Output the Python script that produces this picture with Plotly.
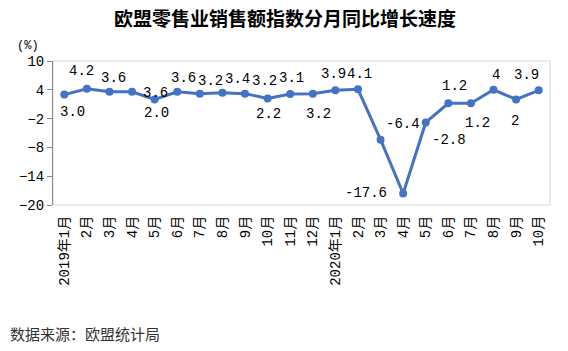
import plotly.graph_objects as go

months = ["2019年1月", "2月", "3月", "4月", "5月", "6月", "7月", "8月", "9月", "10月", "11月", "12月",
          "2020年1月", "2月", "3月", "4月", "5月", "6月", "7月", "8月", "9月", "10月"]
values = [3.0, 4.2, 3.6, 3.6, 2.0, 3.6, 3.2, 3.4, 3.2, 2.2, 3.1, 3.2,
          3.9, 4.1, -6.4, -17.6, -2.8, 1.2, 1.2, 4, 2, 3.9]
value_labels = ["3.0", "4.2", "3.6", "3.6", "2.0", "3.6", "3.2", "3.4", "3.2", "2.2", "3.1", "3.2",
                "3.9", "4.1", "-6.4", "-17.6", "-2.8", "1.2", "1.2", "4", "2", "3.9"]
y_ticks = [10, 4, -2, -8, -14, -20]

# label offsets in pixels (dx right, dy down)
label_dx = [8, -5, 4, 23, 2, 6, 11, 15, 19, 1, 1, 6, -2, 2, 22, -37, 23, 6, 7, 2, -1, -12]
label_dy = [17, -18, -14, 1, 14, -14, -13, -14, -13, 16, -16, 20, -16, -15, -16, 0, 18, -17, 20, -15, 22, -15]

blue = "#4472C4"
num_font = "Liberation Mono, Noto Sans CJK SC, sans-serif"
cjk_font = "Noto Sans CJK SC, sans-serif"

xs = list(range(len(months)))

fig = go.Figure()
fig.add_trace(go.Scatter(
    x=xs, y=values, mode="lines+markers",
    line=dict(color=blue, width=3),
    marker=dict(color=blue, size=8),
    hoverinfo="skip", showlegend=False,
))

annotations = []
for x, v, t, dx, dy in zip(xs, values, value_labels, label_dx, label_dy):
    annotations.append(dict(
        x=x, y=v, xref="x", yref="y", text=t, showarrow=False,
        xshift=dx, yshift=-dy,
        font=dict(family=num_font, size=14, color="#000000"),
    ))

annotations.append(dict(
    x=285, y=18, xref="paper", yref="paper", text="<b>欧盟零售业销售额指数分月同比增长速度</b>",
    showarrow=False, font=dict(family=cjk_font, size=19, color="#000000"),
))
annotations.append(dict(
    text="(%)", x=28, y=46, showarrow=False,
    font=dict(family=num_font, size=12, color="#000000"),
))
annotations.append(dict(
    text="数据来源：欧盟统计局", x=8, y=333, xanchor="left", showarrow=False,
    font=dict(family=cjk_font, size=15, color="#333333"),
))

# convert pixel-positioned annotations to paper coords
W, H = 568, 351
L, R, T, B = 53, 18, 61, 146
pw, ph = W - L - R, H - T - B
for a in annotations[len(xs):]:
    px, py = a["x"], a["y"]
    a["xref"] = "paper"
    a["yref"] = "paper"
    a["x"] = (px - L) / pw
    a["y"] = 1 - (py - T) / ph
    a.setdefault("xanchor", "center")
    a["yanchor"] = "middle"

fig.update_layout(
    width=W, height=H,
    margin=dict(l=L, r=R, t=T, b=B),
    paper_bgcolor="white", plot_bgcolor="white",
    annotations=annotations,
    shapes=[dict(type="rect", xref="paper", yref="paper", x0=0, x1=1, y0=0, y1=1,
                 line=dict(color="#D9D9D9", width=1), layer="below")],
)
fig.update_xaxes(
    range=[-0.5, len(months) - 0.5],
    tickvals=xs, ticktext=months, tickangle=-90,
    showgrid=False, zeroline=False, showline=False,
    ticks="", ticklabelstandoff=7,
    tickfont=dict(family=num_font, size=14, color="#000000"),
)
fig.update_yaxes(
    range=[-20, 10], tickvals=y_ticks,
    showgrid=False, zeroline=False,
    showline=True, linecolor="#868686", linewidth=1,
    ticks="outside", ticklen=5, tickcolor="#868686",
    tickfont=dict(family=num_font, size=14, color="#000000"),
)

fig.write_html("out.html")
